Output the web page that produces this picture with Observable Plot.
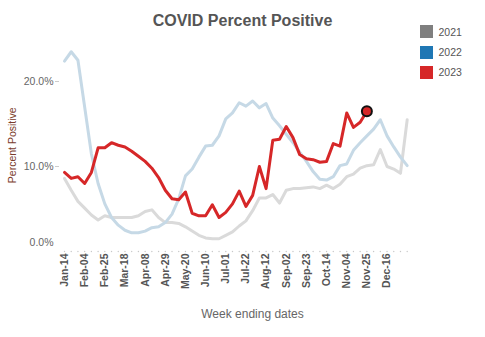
<!DOCTYPE html>
<html>
<head>
<meta charset="utf-8">
<script src="https://cdn.jsdelivr.net/npm/d3@7"></script>
<script src="https://cdn.jsdelivr.net/npm/@observablehq/plot@0.6"></script>
<style>
  html, body { margin: 0; padding: 0; background: #fff; }
  #wrap { position: relative; width: 485px; height: 337px; font-family: "Liberation Sans", Arial, sans-serif; overflow: hidden; }
  #title { position: absolute; top: 12.5px; left: 0; width: 485px; text-align: center; font-weight: bold; font-size: 16px; line-height: 16px; color: #555; }
  #chart { position: absolute; top: 30px; left: 0; }
  .leg { position: absolute; left: 420px; height: 13px; display: flex; align-items: center; font-size: 10.5px; color: #555; }
  .leg span.sw { display: inline-block; width: 13px; height: 13px; margin-right: 5.5px; }
  #chart svg [aria-label="x-axis tick label"] text { font-weight: bold; }
</style>
</head>
<body>
<div id="wrap">
  <div id="title">COVID Percent Positive</div>
  <div id="chart"></div>
  <div id="legend"></div>
</div>
<script>
const weeks = ["Jan-14","Jan-21","Jan-28","Feb-04","Feb-11","Feb-18","Feb-25","Mar-04","Mar-11","Mar-18",
  "Mar-25","Apr-01","Apr-08","Apr-15","Apr-22","Apr-29","May-06","May-13","May-20","May-27",
  "Jun-03","Jun-10","Jun-17","Jun-24","Jul-01","Jul-08","Jul-15","Jul-22","Jul-29","Aug-05",
  "Aug-12","Aug-19","Aug-26","Sep-02","Sep-09","Sep-16","Sep-23","Sep-30","Oct-07","Oct-14",
  "Oct-21","Oct-28","Nov-04","Nov-11","Nov-18","Nov-25","Dec-02","Dec-09","Dec-16","Dec-23",
  "Dec-30","Jan-06"];

const years = ["2021", "2022", "2023"];
const legendColors = ["#7f7f7f", "#1f77b4", "#d62728"];
const lineColors = ["#dadada", "#c6d9e6", "#d62728"];

// percent positive, %
const pct2021 = [8.6,7.2,5.9,5.1,4.3,3.7,4.2,4.0,4.0,4.0,
  4.0,4.2,4.7,4.9,4.0,3.4,3.4,3.3,2.9,2.4,
  1.9,1.6,1.5,1.5,1.9,2.3,3.0,3.6,4.8,6.3,
  6.3,6.7,5.7,7.2,7.4,7.4,7.5,7.6,7.4,7.8,
  7.4,7.9,8.8,9.1,9.8,10.1,10.2,12.0,10.0,9.7,
  9.2,15.5];
const pct2022 = [22.4,23.5,22.5,17.0,11.5,8.0,5.6,4.0,3.1,2.5,
  2.2,2.2,2.4,2.8,2.9,3.4,4.4,6.2,8.9,9.7,
  11.1,12.4,12.5,13.6,15.6,16.3,17.5,17.1,17.7,16.9,
  17.4,15.7,14.8,13.8,12.8,11.7,10.6,9.4,8.5,8.4,
  8.8,10.1,10.3,11.9,12.8,13.6,14.4,15.5,13.6,12.3,
  11.1,10.1];
const pct2023 = [9.3,8.6,8.8,8.0,9.3,12.2,12.2,12.8,12.5,12.3,
  11.8,11.2,10.6,9.8,8.7,7.2,6.2,6.1,7.0,4.5,
  4.2,4.2,5.5,4.0,4.6,5.6,7.1,5.3,6.6,10.0,
  7.4,13.1,13.2,14.7,13.4,11.4,10.9,10.8,10.5,10.6,
  12.7,12.4,16.3,14.6,15.2,16.5];

const yTicks = [0, 0.1, 0.2];
const xTickLabels = weeks.filter((d, i) => i % 3 === 0 && i <= 48);

const series = [pct2021, pct2022, pct2023].map((arr, k) =>
  arr.map((v, i) => ({week: weeks[i], year: years[k], v: v / 100})));
const last2023 = series[2][series[2].length - 1];

const fmt = d => (d * 100).toFixed(1) + "%";

const chart = Plot.plot({
  width: 485,
  height: 307,
  marginLeft: 59,
  marginRight: 73,
  marginTop: 8.5,
  marginBottom: 86,
  style: {fontFamily: '"Liberation Sans", Arial, sans-serif', background: "#fff"},
  x: {type: "point", domain: weeks, padding: 0, insetLeft: 5, insetRight: 5.3, axis: null},
  y: {domain: [0, 0.25], axis: null},
  marks: [
    Plot.axisY(yTicks.filter(d => d > 0), {tickFormat: fmt, tickSize: 4, tickPadding: 2, fontSize: 10.5, fill: "#666", stroke: "#ccc", label: null}),
    Plot.axisY([0], {tickFormat: fmt, tickSize: 0, tickPadding: 6, dy: -9, fontSize: 10.5, fill: "#666", label: null}),
    Plot.axisX({ticks: xTickLabels, tickRotate: -90, tickSize: 0, tickPadding: 2, fontSize: 10.5, fill: "#555", label: null}),
    Plot.dot(weeks, {x: d => d, y: () => 0, r: 0.7, fill: "#c8c8c8", stroke: null}),
    Plot.line(series[0], {x: "week", y: "v", stroke: lineColors[0], strokeWidth: 3, strokeLinejoin: "round"}),
    Plot.line(series[1], {x: "week", y: "v", stroke: lineColors[1], strokeWidth: 3, strokeLinejoin: "round"}),
    Plot.line(series[2], {x: "week", y: "v", stroke: lineColors[2], strokeWidth: 3, strokeLinejoin: "round"}),
    Plot.dot([last2023], {x: "week", y: "v", r: 5, fill: lineColors[2], stroke: "#111", strokeWidth: 2}),
    Plot.text(["Percent Positive"], {frameAnchor: "left", textAnchor: "middle", rotate: -90, dx: -47, fontSize: 10.5, fill: "#7a3b2b"}),
    Plot.text(["Week ending dates"], {frameAnchor: "bottom", dy: 66.5, dx: 16.5, fontSize: 12, fill: "#666"})
  ]
});
document.getElementById("chart").appendChild(chart);

const legend = document.getElementById("legend");
const legTops = [25, 45.5, 65.7];
years.forEach((y, k) => {
  const row = document.createElement("div");
  row.className = "leg";
  row.style.top = legTops[k] + "px";
  row.innerHTML = `<span class="sw" style="background:${legendColors[k]}"></span><span>${y}</span>`;
  legend.appendChild(row);
});
</script>
</body>
</html>
